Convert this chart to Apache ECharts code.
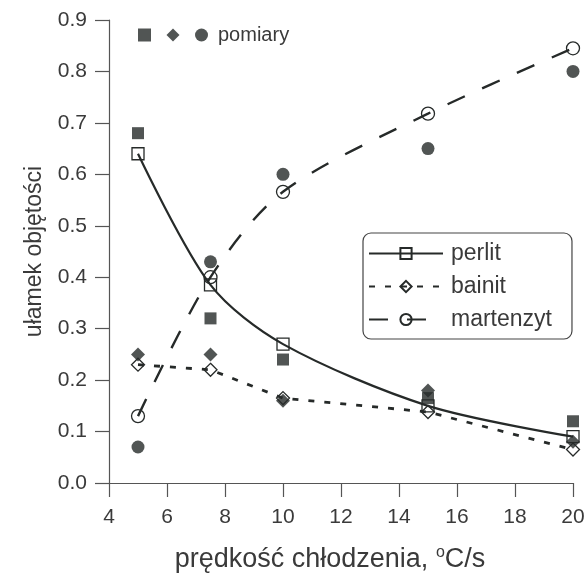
<!DOCTYPE html>
<html>
<head>
<meta charset="utf-8">
<script src="https://cdn.jsdelivr.net/npm/echarts@6/dist/echarts.min.js"></script>
<style>
  html, body { margin: 0; padding: 0; background: #fff; }
  #chart { width: 586px; height: 574px; }
</style>
</head>
<body>
<div id="chart"></div>
<script>
// Cooling rate, °C/s
const speeds = [5, 7.5, 10, 15, 20];

// Calculated phase fractions (lines with open markers)
const perlitModel    = [0.64, 0.385, 0.27, 0.15, 0.09];
const bainitModel    = [0.23, 0.22, 0.165, 0.138, 0.065];
const martenzytModel = [0.13, 0.40, 0.566, 0.718, 0.845];

// Measured phase fractions (filled markers)
const perlitMeasured    = [0.68, 0.32, 0.24, 0.165, 0.12];
const bainitMeasured    = [0.25, 0.25, 0.16, 0.18, 0.08];
const martenzytMeasured = [0.07, 0.43, 0.60, 0.65, 0.80];

// Axis ticks
const xTicks = { min: 4, max: 20, step: 2 };
const yTicks = { min: 0, max: 0.9, step: 0.1 };

const FONT = '"Liberation Sans", Arial, Helvetica, sans-serif';
const INK = '#262a29';
const TEXT = '#3a3a3a';

const pairs = vals => speeds.map((x, i) => [x, vals[i]]);

const openMarker = { color: 'rgba(0,0,0,0)', borderColor: INK, borderWidth: 1.3 };

function modelSeries(name, vals, symbol, size, lineType, width, smooth) {
  return {
    name, type: 'line', data: pairs(vals),
    symbol, symbolSize: size, smooth,
    lineStyle: { color: INK, width, type: lineType },
    itemStyle: openMarker,
    z: 3
  };
}

function measuredSeries(name, vals, symbol, size) {
  return {
    name, type: 'scatter', data: pairs(vals),
    symbol, symbolSize: size,
    itemStyle: { color: INK },
    z: 2
  };
}

const chart = echarts.init(document.getElementById('chart'), null, { renderer: 'canvas' });

chart.setOption({
  backgroundColor: '#fff',
  animation: false,
  grid: { left: 109, right: 13, top: 20, bottom: 91, containLabel: false, outerBoundsMode: 'none' },
  xAxis: {
    type: 'value', min: xTicks.min, max: xTicks.max, interval: xTicks.step,
    axisLine: { onZero: false, lineStyle: { color: '#555', width: 1.2 } },
    axisTick: { length: 14, lineStyle: { color: '#555', width: 1.2 } },
    axisLabel: { margin: 24, fontSize: 21, color: TEXT, fontFamily: FONT },
    splitLine: { show: false },
    name: '{t|prędkość chłodzenia, }{s|o}{t|C/s}',
    nameLocation: 'middle', nameGap: 62,
    nameTextStyle: {
      padding: [0, 22, 0, 0],
      rich: {
        t: { fontSize: 27, color: TEXT, fontFamily: FONT, lineHeight: 30 },
        s: { fontSize: 16, color: TEXT, fontFamily: FONT, verticalAlign: 'top', lineHeight: 30 }
      }
    }
  },
  yAxis: {
    type: 'value', min: yTicks.min, max: yTicks.max, interval: yTicks.step,
    axisLine: { show: true, onZero: false, lineStyle: { color: '#555', width: 1.2 } },
    axisTick: { show: true, length: 14, lineStyle: { color: '#555', width: 1.2 } },
    axisLabel: { margin: 22, fontSize: 21, color: TEXT, fontFamily: FONT,
                 formatter: v => v.toFixed(1) },
    splitLine: { show: false },
    name: 'ułamek objętości', nameLocation: 'middle', nameGap: 63,
    nameTextStyle: { fontSize: 23, color: TEXT, fontFamily: FONT }
  },
  legend: [
    {
      orient: 'vertical', left: 363, top: 233,
      padding: [9, 20, 8, 5], itemGap: 10, itemWidth: 74, itemHeight: 14,
      borderColor: '#444', borderWidth: 1.2, borderRadius: 8,
      textStyle: { fontSize: 23, color: TEXT, fontFamily: FONT, padding: [0, 0, 0, 3] },
      data: ['perlit', 'bainit', 'martenzyt']
    },
    {
      orient: 'horizontal', left: 133, top: 20,
      itemGap: 15.5, itemWidth: 13, itemHeight: 13,
      textStyle: { fontSize: 20, color: TEXT, fontFamily: FONT, padding: [0, 0, 0, 5] },
      formatter: n => (n === 'pomiary' ? 'pomiary' : ''),
      data: [
        { name: 'pomiary (perlit)', icon: 'rect' },
        { name: 'pomiary (bainit)', icon: 'diamond' },
        { name: 'pomiary', icon: 'circle' }
      ]
    }
  ],
  series: [
    measuredSeries('pomiary (perlit)', perlitMeasured, 'rect', 12),
    measuredSeries('pomiary (bainit)', bainitMeasured, 'diamond', 14),
    measuredSeries('pomiary', martenzytMeasured, 'circle', 13),
    modelSeries('perlit', perlitModel, 'rect', 12, 'solid', 2.2, 0.3),
    modelSeries('bainit', bainitModel, 'diamond', 13, [6, 10], 2.8, false),
    modelSeries('martenzyt', martenzytModel, 'circle', 13, [19, 19], 2.4, 0.3)
  ]
});
</script>
</body>
</html>
